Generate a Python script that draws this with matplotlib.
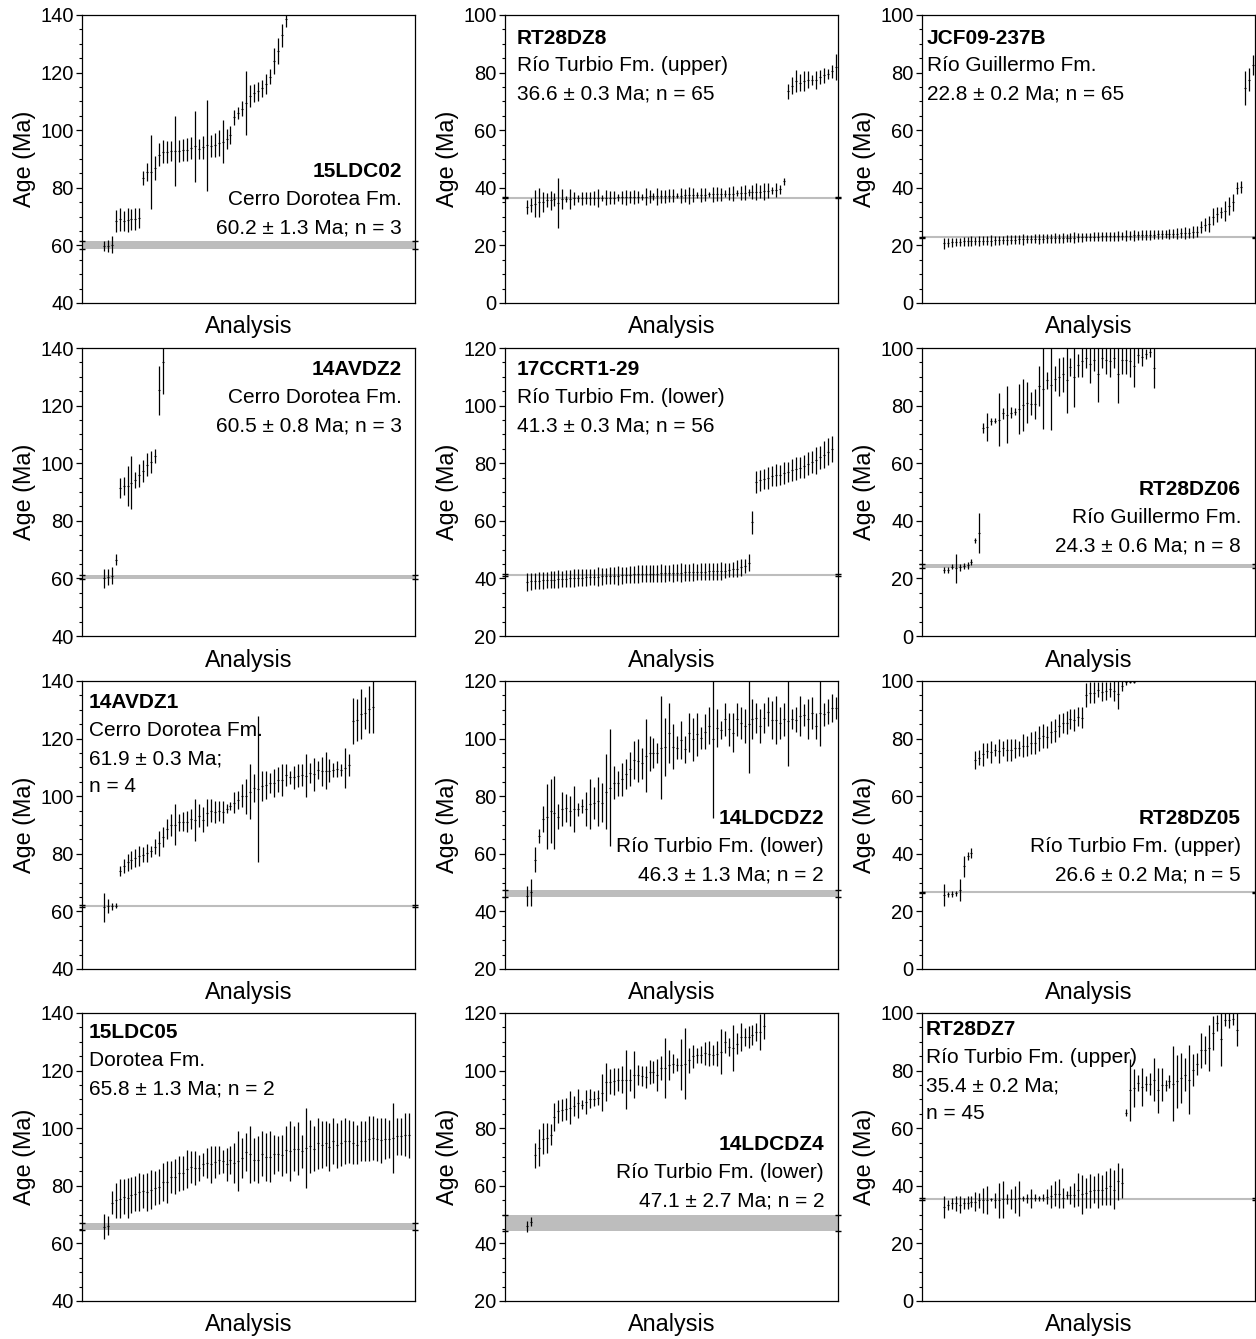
import numpy as np
import matplotlib.pyplot as plt

plt.rcParams['font.family'] = ['Liberation Sans', 'DejaVu Sans']

# ---- data: ages (Ma) and 2-sigma errors, sorted per sample ----
ldc02_age = [59.8, 59.8, 60.2, 68.5, 69.0, 68.5, 68.8, 69.0, 69.3, 69.6,
             83.5, 85.5, 85.5, 87.0, 91.5, 92.5, 92.5, 92.8, 92.7, 92.8,
             93.0, 93.2, 93.8, 94.4, 93.5, 94.0, 94.7, 94.5, 95.0, 95.5,
             96.0, 97.0, 98.3, 104.5, 106.0, 107.5, 109.4, 112.0, 113.0, 113.5,
             114.5, 116.0, 118.5, 124.0, 127.5, 133.0, 138.5]
ldc02_err = [1.8, 2.0, 3.0, 3.8, 4.0, 3.5, 4.2, 3.8, 3.8, 3.5,
             2.5, 3.0, 12.8, 4.2, 4.0, 4.0, 3.8, 3.5, 12.2, 3.8,
             3.8, 4.0, 3.8, 12.4, 3.5, 4.0, 15.8, 3.8, 4.2, 4.5,
             7.5, 3.5, 3.0, 2.6, 2.0, 2.6, 11.0, 3.8, 3.2, 3.2,
             3.0, 3.5, 2.6, 4.6, 4.6, 4.0, 2.6]

rt8_age = [33.3, 34.0, 34.5, 35.0, 35.0, 35.8, 35.6, 36.0, 34.7, 36.0,
           36.2, 36.2, 36.3, 36.3, 36.4, 36.4, 36.4, 36.5, 36.5, 36.5,
           36.6, 36.6, 36.6, 36.7, 36.7, 36.7, 36.8, 36.8, 36.8, 36.9,
           36.9, 37.0, 37.0, 37.0, 37.1, 37.1, 37.2, 37.2, 37.3, 37.3,
           37.4, 37.4, 37.5, 37.5, 37.6, 37.6, 37.7, 37.7, 37.8, 37.8,
           37.9, 38.0, 38.0, 38.1, 38.2, 38.3, 38.4, 38.5, 38.6, 38.7,
           38.8, 39.0, 39.1, 39.3, 39.5, 42.3,
           73.5, 75.5, 77.0, 76.5, 77.0, 77.5, 77.5, 77.5, 78.5, 79.0,
           79.5, 80.5, 82.0]
rt8_err = [2.3, 2.5, 4.6, 5.0, 3.5, 2.3, 3.2, 2.3, 8.7, 3.5,
           1.0, 3.5, 2.3, 1.2, 2.3, 2.0, 2.3, 2.3, 3.0, 1.0,
           2.5, 2.3, 2.3, 1.2, 2.3, 2.5, 2.0, 2.3, 2.0, 1.0,
           3.0, 2.3, 1.2, 3.0, 2.3, 2.3, 2.3, 2.3, 1.0, 2.5,
           2.3, 3.0, 2.3, 1.2, 2.5, 2.3, 1.0, 2.5, 2.5, 2.3,
           1.2, 2.3, 2.5, 1.0, 2.3, 2.5, 1.2, 2.5, 3.0, 2.3,
           3.0, 2.5, 1.2, 2.5, 1.5, 1.2,
           2.6, 2.9, 3.8, 2.9, 3.5, 2.9, 1.7, 3.2, 2.3, 2.6,
           1.7, 2.3, 4.6]

jcf_age = [20.7, 21.0, 21.1, 21.2, 21.3, 21.4, 21.4, 21.5, 21.5, 21.6,
           21.6, 21.7, 21.7, 21.8, 21.8, 21.9, 21.9, 22.0, 22.0, 22.1,
           22.1, 22.2, 22.2, 22.3, 22.3, 22.3, 22.4, 22.4, 22.5, 22.5,
           22.6, 22.6, 22.7, 22.7, 22.8, 22.8, 22.9, 22.9, 23.0, 23.0,
           23.1, 23.1, 23.2, 23.2, 23.3, 23.3, 23.4, 23.4, 23.5, 23.5,
           23.6, 23.6, 23.7, 23.7, 23.8, 23.8, 23.9, 24.0, 24.0, 24.1,
           24.2, 24.3, 24.4, 24.6, 24.8,
           26.4, 27.2, 27.5, 30.0, 30.8, 31.5, 32.0, 33.6, 35.0, 40.0,
           40.3, 74.6, 77.6, 82.5]
jcf_err = [1.9, 1.5, 1.5, 1.5, 1.4, 1.5, 1.5, 1.6, 1.5, 1.8,
           1.5, 1.6, 1.8, 1.5, 1.6, 1.5, 1.8, 1.5, 1.6, 1.5,
           1.8, 1.5, 1.5, 1.6, 1.8, 1.5, 1.5, 1.6, 1.8, 1.5,
           1.6, 1.5, 1.5, 1.8, 1.5, 1.6, 1.5, 1.5, 1.6, 1.5,
           1.5, 1.6, 1.5, 1.5, 1.6, 1.5, 1.8, 1.6, 1.8, 1.6,
           1.8, 1.6, 1.8, 1.6, 1.5, 1.6, 1.5, 1.8, 1.6, 1.8,
           1.8, 2.0, 1.8, 2.0, 2.0,
           2.2, 2.3, 2.7, 2.9, 2.7, 2.0, 3.5, 3.2, 2.9, 2.0,
           2.1, 5.8, 4.0, 3.5]

avdz2_age = [60.0, 60.5, 61.0, 66.4, 91.4, 92.0, 92.0, 93.2, 94.2, 95.8,
             97.4, 99.4, 100.4, 102.5, 125.3, 135.0]
avdz2_err = [3.2, 2.9, 2.9, 1.9, 3.5, 3.2, 7.0, 9.2, 2.9, 4.0,
             3.8, 4.0, 3.8, 2.3, 8.4, 11.0]

ccrt_age = [38.8, 39.0, 39.1, 39.2, 39.3, 39.4, 39.5, 39.6, 39.7, 39.8,
            39.9, 40.0, 40.1, 40.2, 40.3, 40.4, 40.5, 40.5, 40.6, 40.7,
            40.8, 40.9, 41.0, 41.0, 41.1, 41.2, 41.3, 41.4, 41.5, 41.6,
            41.6, 41.6, 41.7, 41.7, 41.8, 41.8, 41.9, 41.9, 42.0, 42.0,
            42.1, 42.1, 42.2, 42.2, 42.3, 42.3, 42.4, 42.4, 42.5, 42.6,
            42.7, 42.9, 43.1, 43.4, 43.8, 44.3, 45.4, 59.5,
            73.5, 74.0, 74.5, 75.0, 75.5, 75.8, 76.0, 76.5, 77.0, 77.5,
            78.0, 78.5, 79.0, 79.8, 80.5, 81.0, 82.0, 83.0, 84.0, 85.0]
ccrt_err = [3.2, 2.9, 2.9, 2.9, 2.9, 2.9, 2.9, 2.9, 3.2, 2.9,
            2.9, 2.9, 3.2, 2.9, 2.9, 3.0, 2.9, 2.9, 3.2, 2.9,
            2.9, 3.0, 2.9, 3.2, 2.9, 2.9, 3.0, 2.9, 3.2, 2.9,
            2.9, 3.0, 2.9, 2.9, 3.2, 2.9, 2.9, 3.0, 2.9, 3.2,
            2.9, 2.9, 3.0, 2.9, 2.9, 3.0, 2.9, 2.9, 2.9, 3.0,
            2.5, 2.3, 2.6, 2.9, 2.9, 2.3, 2.9, 4.0,
            3.8, 3.5, 3.5, 3.8, 3.5, 3.8, 3.5, 3.8, 3.5, 3.8,
            4.0, 3.8, 4.0, 4.0, 3.8, 4.6, 4.0, 4.6, 4.6, 4.6]

rt06_age = [22.9, 23.0, 24.0, 23.5, 23.8, 24.3, 24.6, 25.6, 33.2, 35.8,
            72.2, 72.6, 74.5, 74.8, 75.1, 77.3, 76.9, 77.6, 77.8, 78.8,
            80.2, 81.0, 80.6, 80.6, 86.7, 85.9, 88.8, 87.0, 89.3, 89.8,
            90.8, 88.9, 93.4, 89.9, 94.0, 95.5, 96.5, 94.4, 96.0, 91.0,
            96.5, 96.0, 95.5, 96.5, 91.0, 96.0, 96.0, 95.5, 93.6, 97.4,
            97.0, 98.0, 98.5, 93.0]
rt06_err = [0.9, 1.0, 0.9, 5.0, 1.2, 1.2, 1.2, 1.0, 0.9, 7.0,
            1.7, 4.9, 1.2, 0.8, 9.2, 2.0, 9.9, 2.0, 1.2, 8.7,
            8.9, 7.1, 4.0, 5.2, 6.9, 14.0, 2.9, 15.6, 4.3, 6.6,
            6.0, 11.6, 3.2, 10.4, 4.0, 5.5, 3.5, 6.6, 4.0, 9.8,
            3.5, 5.0, 5.5, 3.5, 10.0, 5.0, 5.0, 5.5, 7.0, 2.6,
            3.2, 1.7, 1.5, 7.0]

avdz1_age = [61.4, 61.8, 61.8, 62.0,
             74.1, 75.8, 77.0, 77.9, 78.5, 79.3, 79.7, 80.2, 80.8, 82.5,
             83.7, 85.7, 88.6, 90.1, 90.1, 90.9, 91.2, 91.2, 92.0, 91.8,
             93.2, 91.8, 94.3, 94.9, 94.6, 94.9, 94.6, 95.7, 96.6, 97.8,
             98.7, 100.1, 99.9, 101.6, 102.8, 102.4, 103.6, 103.9, 104.7, 104.5,
             105.7, 105.7, 107.4, 106.5, 106.5, 107.1, 107.4, 107.1, 108.2, 107.6,
             109.1, 108.6, 108.8, 108.8, 109.1, 109.4, 109.1, 109.9, 110.9,
             126.1, 126.5, 128.4, 128.8, 130.2, 131.1]
avdz1_err = [5.0, 2.5, 1.2, 0.9,
             1.7, 2.3, 2.9, 3.2, 3.2, 3.5, 2.6, 3.2, 2.0, 2.6,
             4.3, 3.5, 3.5, 3.8, 7.2, 2.9, 3.2, 3.8, 3.5, 7.2,
             4.0, 4.3, 4.6, 4.0, 3.8, 3.5, 3.8, 1.5, 1.5, 3.5,
             3.2, 4.0, 6.1, 9.5, 4.9, 25.4, 5.2, 4.9, 3.5, 4.9,
             4.3, 5.5, 3.8, 2.3, 4.0, 4.0, 3.8, 7.5, 3.5, 5.8,
             3.2, 4.9, 6.4, 4.0, 2.6, 2.9, 2.0, 6.9, 3.8,
             8.1, 7.2, 8.7, 5.5, 8.1, 9.0]

ldcdz2_age = [45.4, 46.6,
              57.9, 66.2, 72.0, 72.9, 74.9, 74.3, 72.9, 75.5, 75.8, 74.9,
              75.5, 75.5, 76.6, 75.5, 77.2, 77.6, 78.2, 77.8, 81.6, 83.0,
              84.7, 84.5, 85.9, 87.6, 89.4, 92.6, 92.3, 91.4, 94.0, 94.9,
              95.1, 95.1, 96.9, 97.2, 102.1, 97.2, 96.9, 99.5, 96.3, 102.1,
              99.8, 101.5, 100.1, 102.4, 104.4, 100.0, 103.6, 103.0, 106.7, 103.2,
              102.1, 106.7, 105.3, 104.4, 105.0, 106.7, 107.3, 104.4, 107.3, 109.4,
              106.5, 106.5, 105.3, 106.7, 106.0, 106.7, 106.5, 107.9, 108.2, 106.7,
              108.8, 104.4, 109.0, 108.4, 109.4, 110.5, 110.5]
ldcdz2_err = [3.5, 4.6,
              4.3, 2.3, 4.6, 11.3, 11.0, 12.7, 4.3, 5.8, 4.9, 5.2,
              8.1, 2.3, 2.3, 5.8, 8.7, 5.5, 8.4, 6.9, 13.0, 20.2,
              5.8, 4.3, 5.8, 5.2, 5.8, 6.6, 7.5, 5.5, 12.7, 6.1,
              5.2, 3.5, 17.9, 10.1, 10.4, 7.8, 4.0, 6.6, 4.6, 6.9,
              7.5, 7.5, 3.8, 6.1, 6.4, 27.5, 6.6, 3.2, 5.8, 5.8,
              6.9, 5.8, 5.5, 5.8, 16.8, 6.9, 5.2, 5.8, 5.2, 4.9,
              6.6, 8.4, 5.5, 5.8, 15.5, 3.5, 4.3, 6.9, 3.8, 6.9,
              5.5, 4.6, 11.5, 4.0, 4.3, 4.9, 3.8]

rt05_age = [25.8, 25.9, 26.0, 26.3, 27.5, 35.6, 39.2, 40.3,
            72.6, 73.4, 74.6, 75.7, 75.5, 76.1, 75.7, 76.6, 76.1, 76.1,
            76.6, 76.6, 77.5, 77.5, 78.4, 78.6, 80.1, 80.9, 80.7, 82.4,
            82.7, 84.4, 85.5, 85.5, 86.7, 86.5, 87.6, 87.3,
            95.1, 96.0, 96.0, 96.9, 96.3, 96.5, 97.1, 96.5, 95.4, 98.3,
            99.5, 99.7, 99.8]
rt05_err = [3.8, 0.9, 1.0, 0.9, 3.8, 3.8, 1.5, 1.7,
            3.2, 2.6, 4.0, 2.6, 3.8, 2.0, 4.0, 2.6, 3.8, 3.8,
            3.2, 2.6, 4.0, 3.5, 3.8, 4.0, 4.3, 4.0, 3.8, 3.8,
            4.0, 4.0, 3.5, 4.0, 3.5, 3.8, 3.2, 3.5,
            4.3, 3.5, 3.5, 2.6, 3.2, 3.2, 2.6, 3.5, 5.0, 1.8,
            0.8, 0.5, 0.4]

ldc05_age = [65.8, 66.2,
             74.1, 75.0, 75.5, 76.2, 75.8, 76.8, 77.3, 77.9, 78.2, 77.9,
             78.7, 79.3, 79.7, 81.4, 81.4, 83.1, 83.1, 84.3, 84.5, 86.0,
             86.6, 86.2, 86.2, 87.4, 88.0, 87.4, 88.3, 88.9, 88.6, 87.4,
             88.9, 88.0, 88.6, 89.7, 91.8, 90.9, 89.1, 89.1, 91.2, 90.1,
             90.1, 90.9, 91.2, 90.6, 92.6, 92.0, 92.9, 92.9, 92.0, 93.2,
             93.8, 92.9, 94.7, 94.3, 94.7, 93.5, 95.5, 94.1, 94.9, 95.5,
             95.5, 94.9, 94.3, 95.5, 95.5, 96.4, 96.6, 96.1, 95.8, 96.4,
             96.4, 96.6, 97.2, 97.2, 97.8, 97.6]
ldc05_err = [4.3, 3.3,
             4.0, 6.1, 6.8, 6.1, 6.9, 6.1, 6.1, 6.6, 5.8, 6.6,
             6.9, 5.8, 6.1, 6.6, 7.2, 5.5, 6.1, 6.1, 5.8, 6.6,
             5.5, 5.8, 4.6, 4.0, 5.2, 6.4, 5.5, 4.9, 4.0, 5.8,
             4.9, 6.9, 10.4, 6.9, 6.6, 9.8, 7.5, 8.1, 7.8, 8.4,
             8.9, 6.9, 6.1, 7.2, 8.1, 10.4, 7.8, 9.2, 5.8, 13.9,
             9.2, 7.8, 9.0, 8.1, 7.8, 8.4, 8.1, 7.8, 8.1, 8.1,
             7.5, 7.5, 6.9, 6.9, 6.9, 7.8, 7.5, 7.5, 7.8, 7.2,
             6.6, 12.1, 6.4, 6.4, 7.5, 7.8]

ldcdz4_age = [45.9, 47.6,
              70.6, 73.2, 76.4, 76.6, 77.8, 83.9, 85.9, 86.2, 86.8, 87.1,
              87.6, 88.6, 88.2, 89.1, 90.3, 90.3, 90.5, 92.3, 96.1, 96.1,
              96.3, 96.9, 96.9, 96.9, 96.6, 98.6, 98.6, 98.0, 97.8, 99.5,
              99.5, 98.4, 100.9, 100.9, 102.1, 102.4, 102.1, 102.1, 102.4, 103.6,
              105.0, 105.3, 105.5, 106.1, 105.9, 105.5, 105.9, 106.5, 109.9, 108.2,
              107.9, 109.4, 111.7, 111.7, 111.7, 112.5, 113.4, 113.4, 115.4]
ldcdz4_err = [1.9, 1.4,
              4.3, 6.4, 5.5, 5.2, 3.5, 4.9, 4.0, 3.8, 3.8, 5.8,
              3.5, 4.9, 1.7, 4.3, 3.2, 2.6, 2.6, 6.4, 6.6, 4.3,
              4.6, 4.0, 4.6, 10.4, 3.8, 8.1, 3.5, 3.5, 3.8, 4.3,
              3.8, 5.5, 4.0, 10.4, 5.2, 3.2, 2.3, 8.7, 12.4, 4.3,
              4.0, 2.6, 2.9, 4.0, 4.3, 3.5, 4.3, 7.8, 3.8, 3.2,
              8.1, 3.8, 4.9, 3.2, 3.8, 3.5, 3.2, 6.1, 4.6]

rt7_age = [32.6, 33.2, 33.9, 33.9, 33.5, 33.9, 34.1, 34.5, 34.5, 35.0,
           35.0, 35.0, 35.3, 35.0, 35.0, 35.3, 35.3, 35.3, 35.3, 35.6,
           35.6, 35.6, 35.6, 35.8, 35.6, 35.8, 36.2, 36.4, 37.3, 37.3,
           35.8, 36.8, 36.8, 36.8, 38.7, 37.0, 37.6, 38.2, 38.7, 38.5,
           38.7, 39.3, 39.9, 38.7, 41.6, 41.0,
           65.3, 73.2, 73.8, 75.7, 74.3, 75.5, 75.5, 76.9, 73.2, 75.1,
           74.9, 76.3, 75.5, 76.3, 77.5, 78.6, 76.9, 80.1, 82.4, 87.1,
           87.1, 87.9, 93.1, 96.5, 90.8, 97.7, 97.5, 98.0, 94.2]
rt7_err = [3.9, 1.7, 2.0, 2.6, 2.9, 2.0, 2.3, 2.0, 3.2, 2.6,
           4.3, 4.9, 0.6, 2.6, 6.1, 6.4, 1.7, 3.5, 4.6, 6.1,
           0.9, 1.4, 3.2, 1.2, 0.9, 1.2, 2.6, 4.0, 4.3, 4.9,
           3.5, 1.4, 3.2, 4.3, 5.8, 6.9, 5.2, 5.8, 4.6, 6.1,
           5.2, 5.8, 6.4, 6.9, 6.4, 5.2,
           1.2, 10.7, 6.6, 2.9, 6.6, 2.6, 3.8, 7.5, 7.8, 5.8,
           2.0, 2.3, 13.0, 9.2, 8.7, 5.8, 12.1, 5.5, 3.8, 6.1,
           4.9, 8.1, 5.8, 2.9, 9.2, 2.3, 2.6, 2.0, 5.8]

# sample labels and weighted mean ages
samples = ['15LDC02', 'RT28DZ8', 'JCF09-237B',
           '14AVDZ2', '17CCRT1-29', 'RT28DZ06',
           '14AVDZ1', '14LDCDZ2', 'RT28DZ05',
           '15LDC05', '14LDCDZ4', 'RT28DZ7']
formations = ['Cerro Dorotea Fm.', 'Río Turbio Fm. (upper)', 'Río Guillermo Fm.',
              'Cerro Dorotea Fm.', 'Río Turbio Fm. (lower)', 'Río Guillermo Fm.',
              'Cerro Dorotea Fm.', 'Río Turbio Fm. (lower)', 'Río Turbio Fm. (upper)',
              'Dorotea Fm.', 'Río Turbio Fm. (lower)', 'Río Turbio Fm. (upper)']
mean_age = [60.2, 36.6, 22.8, 60.5, 41.3, 24.3, 61.9, 46.3, 26.6, 65.8, 47.1, 35.4]
mean_err = [1.3, 0.3, 0.2, 0.8, 0.3, 0.6, 0.3, 1.3, 0.2, 1.3, 2.7, 0.2]
n_mean = [3, 65, 65, 3, 56, 8, 4, 2, 5, 2, 2, 45]
y_min = [40, 0, 0, 40, 20, 0, 40, 20, 0, 40, 20, 0]

ages = [ldc02_age, rt8_age, jcf_age, avdz2_age, ccrt_age, rt06_age,
        avdz1_age, ldcdz2_age, rt05_age, ldc05_age, ldcdz4_age, rt7_age]
errs = [ldc02_err, rt8_err, jcf_err, avdz2_err, ccrt_err, rt06_err,
        avdz1_err, ldcdz2_err, rt05_err, ldc05_err, ldcdz4_err, rt7_err]

# label placement: (x, first line measured from the top, alignment, split result line)
label_pos = [(0.96, 0.545, 'right', False), (0.036, 0.080, 'left', False), (0.015, 0.080, 'left', False),
             (0.96, 0.076, 'right', False), (0.036, 0.076, 'left', False), (0.958, 0.493, 'right', False),
             (0.021, 0.076, 'left', True), (0.958, 0.479, 'right', False), (0.958, 0.479, 'right', False),
             (0.021, 0.069, 'left', False), (0.958, 0.458, 'right', False), (0.012, 0.059, 'left', True)]
line_step = 0.097

W, H = 1256, 1339
fig = plt.figure(figsize=(W / 100, H / 100), dpi=100)

col_left = [82, 505, 922]
row_top = [15, 348, 681, 1013]
ax_w, ax_h = 333, 288
xlo, xhi = -5.5, 78.6

for i in range(12):
    r, c = divmod(i, 3)
    ax = fig.add_axes([col_left[c] / W, 1 - (row_top[r] + ax_h) / H, ax_w / W, ax_h / H])
    a = np.array(ages[i])
    e = np.array(errs[i])
    x = np.arange(len(a))

    m, me = mean_age[i], mean_err[i]
    ax.axhspan(m - me, m + me, color='#bdbdbd', lw=0, zorder=1)
    ax.axhline(m, color='#bdbdbd', lw=1.5, zorder=1)
    ax.plot([xlo, xlo, xhi, xhi], [m - me, m + me, m - me, m + me], ls='none',
            marker='_', ms=4, mew=1, color='black', clip_on=False, zorder=3)

    ax.errorbar(x, a, yerr=e, fmt='none', ecolor='black', elinewidth=0.9, zorder=2)
    ax.plot(x, a, ls='none', marker='_', ms=1.8, mew=0.8, color='black', zorder=2)

    ax.set_xlim(xlo, xhi)
    ax.set_ylim(y_min[i], y_min[i] + 100)
    ax.set_xticks([])
    ax.set_yticks(np.arange(y_min[i], y_min[i] + 101, 20))
    ax.set_yticks(np.arange(y_min[i], y_min[i] + 101, 5), minor=True)
    ax.tick_params(axis='y', which='major', direction='out', length=4, width=0.9,
                   labelsize=14.5, pad=2)
    ax.tick_params(axis='y', which='minor', direction='out', length=2.5, width=0.8)
    for s in ax.spines.values():
        s.set_linewidth(0.9)
    ax.set_xlabel('Analysis', fontsize=16.8, labelpad=9)
    ax.set_ylabel('Age (Ma)', fontsize=16.8, labelpad=3)

    tx, ty, ha, split = label_pos[i]
    lines = [samples[i], formations[i]]
    if split:
        lines += [f'{m:.1f} ± {me:.1f} Ma;', f'n = {n_mean[i]}']
    else:
        lines += [f'{m:.1f} ± {me:.1f} Ma; n = {n_mean[i]}']
    for k, txt in enumerate(lines):
        ax.text(tx, 1 - ty - k * line_step, txt, transform=ax.transAxes, ha=ha, va='center',
                fontsize=15, fontweight='bold' if k == 0 else 'normal', zorder=4)

fig.savefig('out.png', dpi=100)
